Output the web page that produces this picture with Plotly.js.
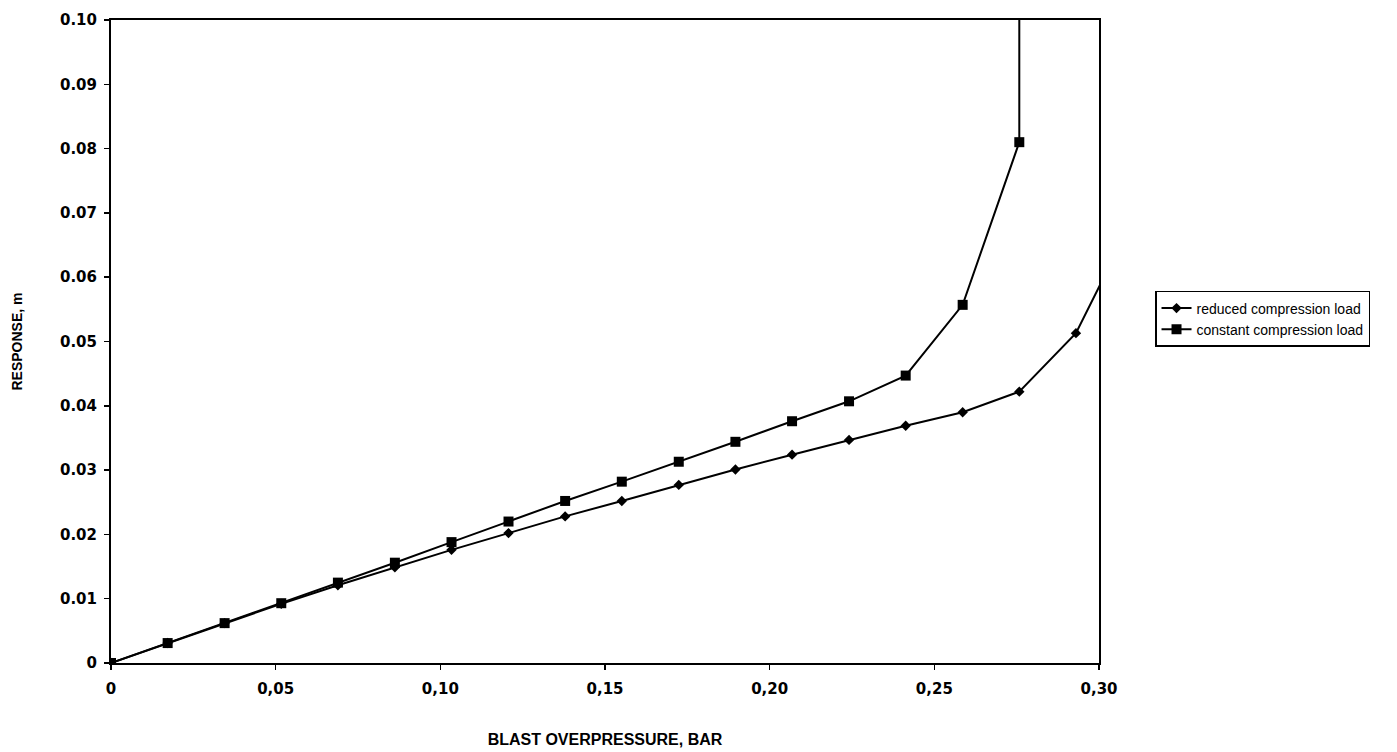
<!DOCTYPE html>
<html>
<head>
<meta charset="utf-8">
<script src="https://cdn.plot.ly/plotly-3.0.1.min.js"></script>
<style>html,body{margin:0;padding:0;background:#fff;}#chart{width:1397px;height:752px;}</style>
</head>
<body>
<div id="chart"></div>
<script>
// Blast overpressure (bar) – steps of 0.25 psi
var pressureReduced = [0, 0.0172, 0.0345, 0.0517, 0.0689, 0.0862, 0.1034, 0.1207, 0.1379, 0.1551, 0.1724, 0.1896, 0.2068, 0.2241, 0.2413, 0.2586, 0.2758, 0.2930, 0.3103];
var responseReduced = [0, 0.0031, 0.0062, 0.0092, 0.0121, 0.0149, 0.0176, 0.0202, 0.0228, 0.0252, 0.0277, 0.0301, 0.0324, 0.0347, 0.0369, 0.0390, 0.0422, 0.0513, 0.0690];

var pressureConstant = [0, 0.0172, 0.0345, 0.0517, 0.0689, 0.0862, 0.1034, 0.1207, 0.1379, 0.1551, 0.1724, 0.1896, 0.2068, 0.2241, 0.2413, 0.2586, 0.2758, 0.2758];
var responseConstant = [0, 0.0031, 0.0062, 0.0093, 0.0125, 0.0156, 0.0188, 0.0220, 0.0252, 0.0282, 0.0313, 0.0344, 0.0376, 0.0407, 0.0447, 0.0557, 0.0810, 0.2000];

var seriesNames = ["reduced compression load", "constant compression load"];

var xTickVals = [0, 0.05, 0.10, 0.15, 0.20, 0.25, 0.30];
var xTickText = ["0", "0,05", "0,10", "0,15", "0,20", "0,25", "0,30"];
var yTickVals = [0, 0.01, 0.02, 0.03, 0.04, 0.05, 0.06, 0.07, 0.08, 0.09, 0.10];
var yTickText = ["0", "0.01", "0.02", "0.03", "0.04", "0.05", "0.06", "0.07", "0.08", "0.09", "0.10"];

var fontFam = "Liberation Sans, Arial, sans-serif";
var tickFam = "DejaVu Sans, Liberation Sans, sans-serif";

var traces = [
  {
    x: pressureReduced, y: responseReduced, name: seriesNames[0],
    type: "scatter", mode: "lines+markers",
    line: {color: "#000", width: 2},
    marker: {symbol: "diamond", size: 8, color: "#000"}
  },
  {
    x: pressureConstant, y: responseConstant, name: seriesNames[1],
    type: "scatter", mode: "lines+markers",
    line: {color: "#000", width: 2},
    marker: {symbol: "square", size: 10, color: "#000"}
  }
];

var layout = {
  width: 1397, height: 752,
  paper_bgcolor: "#fff", plot_bgcolor: "#fff",
  margin: {l: 111, r: 298, t: 20, b: 89},
  font: {family: fontFam, color: "#000", size: 13},
  showlegend: true,
  legend: {
    x: 1.0567, xanchor: "left", y: 0.535, yanchor: "middle",
    bordercolor: "#000", borderwidth: 1.5, bgcolor: "#fff",
    font: {family: fontFam, size: 14, color: "#000"},
    tracegroupgap: 0
  },
  xaxis: {
    range: [0, 0.30], tickvals: xTickVals, ticktext: xTickText,
    showgrid: false, zeroline: false,
    showline: true, linecolor: "#000", linewidth: 2, mirror: true,
    ticks: "outside", ticklen: 5, tickcolor: "#000", tickwidth: 1.5,
    ticklabelstandoff: 6,
    tickfont: {family: tickFam, size: 15, color: "#000", weight: "bold"},
    title: {text: "BLAST OVERPRESSURE, BAR", standoff: 37,
            font: {family: fontFam, size: 16, color: "#000", weight: "bold"}}
  },
  yaxis: {
    range: [0, 0.10], tickvals: yTickVals, ticktext: yTickText,
    showgrid: false, zeroline: false,
    showline: true, linecolor: "#000", linewidth: 2, mirror: true,
    ticks: "outside", ticklen: 5, tickcolor: "#000", tickwidth: 1.5,
    ticklabelstandoff: 4,
    tickfont: {family: tickFam, size: 15, color: "#000", weight: "bold"},
    title: {text: "RESPONSE, m", standoff: 34,
            font: {family: fontFam, size: 14, color: "#000", weight: "bold"}}
  }
};

Plotly.newPlot("chart", traces, layout, {displayModeBar: false, staticPlot: true});
</script>
</body>
</html>
